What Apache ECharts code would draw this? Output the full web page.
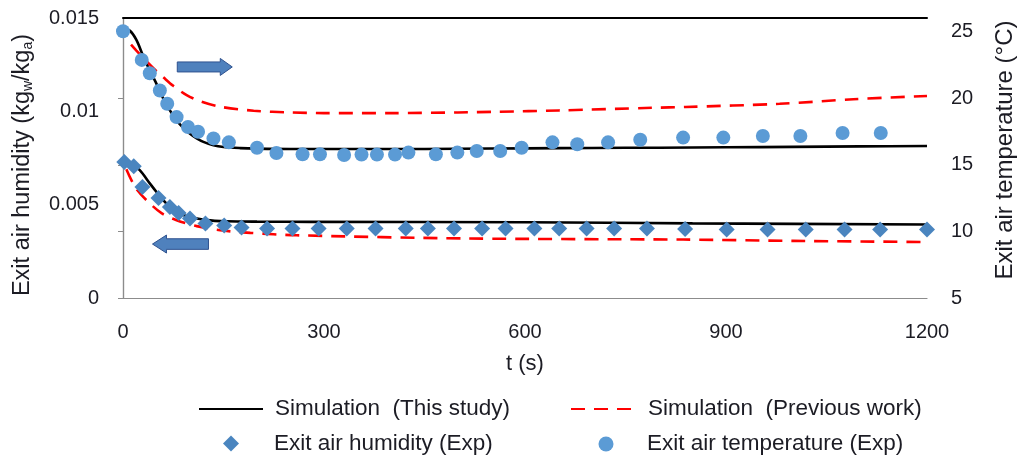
<!DOCTYPE html>
<html>
<head>
<meta charset="utf-8">
<script src="https://cdn.jsdelivr.net/npm/echarts@6/dist/echarts.min.js"></script>
<style>
  html, body { margin: 0; padding: 0; background: #ffffff; }
  #chart { width: 1019px; height: 459px; }
</style>
</head>
<body>
<div id="chart"></div>
<script>
// Axis ticks
const timeTicks = [0, 300, 600, 900, 1200];
const humidityTicks = [0, 0.005, 0.01, 0.015];
const temperatureTicks = [5, 10, 15, 20, 25];

// Simulation (This study): exit air temperature (°C)
const simThisTempTime = [0, 10, 20, 30, 40, 50, 60, 70, 80, 90, 100, 110, 120, 135, 150, 175, 200, 250, 300, 400, 500, 600, 700, 800, 900, 1000, 1100, 1200];
const simThisTemp     = [25.2, 25.1, 24.4, 23.2, 22.1, 21.1, 20.0, 19.1, 18.35, 17.8, 17.35, 17.0, 16.74, 16.48, 16.35, 16.27, 16.23, 16.2, 16.2, 16.2, 16.22, 16.25, 16.28, 16.3, 16.33, 16.36, 16.4, 16.43];

// Simulation (This study): exit air humidity (kg_w/kg_a)
const simThisHumTime = [0, 10, 25, 40, 50, 60, 70, 80, 90, 100, 125, 155, 200, 280, 600, 850, 1200];
const simThisHum     = [0.00738, 0.00725, 0.00685, 0.00614, 0.00568, 0.00524, 0.00488, 0.00461, 0.00445, 0.00434, 0.00417, 0.00411, 0.00409, 0.00408, 0.00406, 0.00400, 0.00394];

// Simulation (Previous work): exit air temperature (°C)
const simPrevTempTime = [12, 20, 35, 50, 60, 75, 95, 115, 145, 195, 250, 300, 400, 500, 560, 650, 790, 840, 980, 1090, 1200];
const simPrevTemp     = [24.05, 23.6, 22.8, 22.05, 21.6, 20.95, 20.25, 19.8, 19.38, 19.08, 18.95, 18.9, 18.9, 18.95, 19.0, 19.1, 19.3, 19.36, 19.6, 19.94, 20.19];

// Simulation (Previous work): exit air humidity (kg_w/kg_a)
const simPrevHumTime = [5, 18, 35, 58, 80, 110, 145, 190, 259, 513, 836, 1000, 1200];
const simPrevHum     = [0.0069, 0.00595, 0.00524, 0.00453, 0.00417, 0.00385, 0.00363, 0.00349, 0.00336, 0.00319, 0.00313, 0.00306, 0.00300];

// Measured exit air humidity (kg_w/kg_a)
const expHumTime = [2, 16, 29, 53, 70, 83, 100, 123, 151, 177, 215, 253, 292, 334, 377, 422, 455, 494, 536, 571, 614, 651, 692, 733, 782, 839, 901, 962, 1019, 1077, 1130, 1200];
const expHum     = [0.00729, 0.00706, 0.00595, 0.00536, 0.00488, 0.00456, 0.00426, 0.00399, 0.00388, 0.00378, 0.00372, 0.00372, 0.00372, 0.00372, 0.00372, 0.00372, 0.00372, 0.00372, 0.00372, 0.00372, 0.00372, 0.00372, 0.00372, 0.00372, 0.00372, 0.00369, 0.00367, 0.00367, 0.00367, 0.00367, 0.00367, 0.00367];

// Measured exit air temperature (°C)
const expTempTime = [0, 28, 40, 55, 66, 80, 97, 112, 135, 158, 200, 229, 268, 294, 330, 356, 379, 406, 426, 467, 499, 528, 563, 595, 641, 678, 724, 772, 836, 896, 955, 1011, 1074, 1131];
const expTemp     = [25.05, 22.9, 21.9, 20.6, 19.6, 18.6, 17.86, 17.5, 17.0, 16.7, 16.3, 15.9, 15.8, 15.8, 15.75, 15.78, 15.78, 15.78, 15.93, 15.8, 15.93, 16.05, 16.05, 16.3, 16.7, 16.56, 16.7, 16.9, 17.06, 17.06, 17.18, 17.18, 17.4, 17.4];

// Arrow anchors [time, value]: one points to the temperature axis, one to the humidity axis
const arrowToTemperature = [81, 22.37];
const arrowToHumidity = [44, 0.00289];

const NAME_THIS = 'Simulation  (This study)';
const NAME_PREV = 'Simulation  (Previous work)';
const NAME_HUM = 'Exit air humidity (Exp)';
const NAME_TEMP = 'Exit air temperature (Exp)';

const FONT = '"Liberation Sans", Arial, sans-serif';
const TEXT = '#1c1c24';
const AXIS_GREY = '#8c8c8c';

const zip = (xs, ys) => xs.map((x, i) => [x, ys[i]]);

const chart = echarts.init(document.getElementById('chart'), null, { renderer: 'canvas' });

const lineBase = {
  type: 'line',
  symbol: 'none',
  smooth: 0.3,
  z: 2
};

// One legend entry per component so each can sit in its own slot
function legendEntry(name, left, top, iconWidth, iconHeight, textPad, hideSymbol) {
  const entry = {
    orient: 'horizontal',
    left: left,
    top: top,
    padding: 0,
    itemWidth: iconWidth,
    itemHeight: iconHeight,
    data: [name],
    formatter: n => '{n|' + n + '}',
    textStyle: {
      rich: { n: { fontFamily: FONT, fontSize: 22.5, color: TEXT, padding: [0, 0, 0, textPad] } }
    }
  };
  if (hideSymbol) entry.itemStyle = { opacity: 0 };
  return entry;
}

chart.setOption({
  animation: false,
  backgroundColor: '#ffffff',
  grid: { left: 123, right: 92, top: 18, bottom: 161 },
  xAxis: [
    {
      type: 'value',
      min: timeTicks[0],
      max: timeTicks[timeTicks.length - 1],
      interval: timeTicks[1] - timeTicks[0],
      name: 't (s)',
      nameLocation: 'middle',
      nameGap: 55,
      nameTextStyle: { fontFamily: FONT, fontSize: 22, color: TEXT },
      axisLine: { lineStyle: { color: AXIS_GREY, width: 1.2 } },
      axisTick: { show: false },
      splitLine: { show: false },
      axisLabel: { fontFamily: FONT, fontSize: 20, color: TEXT, margin: 24, formatter: v => String(v) }
    },
    {
      // closes the plot frame along its top edge
      type: 'value',
      position: 'top',
      min: timeTicks[0],
      max: timeTicks[timeTicks.length - 1],
      axisLine: { lineStyle: { color: '#000000', width: 2 } },
      axisTick: { show: false },
      axisLabel: { show: false },
      splitLine: { show: false }
    }
  ],
  yAxis: [
    {
      type: 'value',
      position: 'left',
      min: humidityTicks[0],
      max: humidityTicks[humidityTicks.length - 1],
      interval: humidityTicks[1] - humidityTicks[0],
      axisLine: { show: true, lineStyle: { color: AXIS_GREY, width: 1.2 } },
      axisTick: { show: false },
      splitLine: { show: false },
      axisLabel: { fontFamily: FONT, fontSize: 20, color: TEXT, margin: 24 }
    },
    {
      type: 'value',
      position: 'right',
      min: temperatureTicks[0],
      max: 26.05,
      interval: temperatureTicks[1] - temperatureTicks[0],
      axisLine: { show: true, lineStyle: { color: AXIS_GREY, width: 1.2 } },
      axisTick: { show: true, inside: true, length: 5, lineStyle: { color: AXIS_GREY } },
      splitLine: { show: false },
      axisLabel: { fontFamily: FONT, fontSize: 20, color: TEXT, margin: 24, showMaxLabel: false }
    }
  ],
  legend: [
    legendEntry(NAME_THIS, 198, 397.5, 64, 14, 7, true),
    legendEntry(NAME_PREV, 570, 397.5, 60, 14, 12, true),
    legendEntry(NAME_HUM, 223, 432, 16, 16, 30, false),
    legendEntry(NAME_TEMP, 598.5, 432.5, 15, 15, 28.5, false)
  ],
  series: [
    Object.assign({}, lineBase, {
      name: NAME_THIS,
      xAxisIndex: 0, yAxisIndex: 0,
      lineStyle: { color: '#000000', width: 2.6 },
      itemStyle: { color: '#000000' },
      data: zip(simThisHumTime, simThisHum)
    }),
    Object.assign({}, lineBase, {
      name: NAME_THIS,
      xAxisIndex: 0, yAxisIndex: 1,
      lineStyle: { color: '#000000', width: 2.6 },
      itemStyle: { color: '#000000' },
      data: zip(simThisTempTime, simThisTemp)
    }),
    Object.assign({}, lineBase, {
      name: NAME_PREV,
      xAxisIndex: 0, yAxisIndex: 0,
      lineStyle: { color: '#ff0000', width: 2.6, type: [14, 9] },
      itemStyle: { color: '#ff0000' },
      data: zip(simPrevHumTime, simPrevHum)
    }),
    Object.assign({}, lineBase, {
      name: NAME_PREV,
      xAxisIndex: 0, yAxisIndex: 1,
      lineStyle: { color: '#ff0000', width: 2.6, type: [14, 9] },
      itemStyle: { color: '#ff0000' },
      data: zip(simPrevTempTime, simPrevTemp)
    }),
    {
      name: NAME_HUM,
      type: 'scatter',
      xAxisIndex: 0, yAxisIndex: 0,
      symbol: 'diamond',
      symbolSize: 16,
      itemStyle: { color: '#4a85bf', opacity: 1 },
      z: 3,
      data: zip(expHumTime, expHum)
    },
    {
      name: NAME_TEMP,
      type: 'scatter',
      xAxisIndex: 0, yAxisIndex: 1,
      symbol: 'circle',
      symbolSize: 14,
      itemStyle: { color: '#5b9bd5', opacity: 1 },
      z: 3,
      data: zip(expTempTime, expTemp)
    }
  ]
});

// Axis titles and block arrows
function annotations() {
  const a = chart.convertToPixel({ xAxisIndex: 0, yAxisIndex: 1 }, arrowToTemperature);
  const b = chart.convertToPixel({ xAxisIndex: 0, yAxisIndex: 0 }, arrowToHumidity);
  const style = { fill: '#4f81bd', stroke: '#2f528f', lineWidth: 1 };
  // right-pointing: tail at anchor
  const right = [
    [0, -5], [43, -5], [43, -8.5], [55, 0], [43, 8.5], [43, 5], [0, 5]
  ].map(p => [a[0] + p[0], a[1] + p[1]]);
  // left-pointing: tip at anchor
  const left = [
    [0, 0], [14, -9], [14, -5.3], [56, -5.3], [56, 5.3], [14, 5.3], [14, 9]
  ].map(p => [b[0] + p[0], b[1] + p[1]]);
  chart.setOption({
    graphic: [
      { type: 'polygon', shape: { points: right }, style: style, z: 10 },
      { type: 'polygon', shape: { points: left }, style: style, z: 10 },
      {
        type: 'text', x: 23, y: 165, rotation: Math.PI / 2,
        style: {
          text: '{t|Exit air humidity (kg}{s|w}{t|/kg}{s|a}{t|)}',
          align: 'center', verticalAlign: 'middle',
          rich: {
            t: { fontFamily: FONT, fontSize: 23.5, fill: TEXT },
            s: { fontFamily: FONT, fontSize: 14, fill: TEXT, padding: [10, 0, 0, 0] }
          }
        }
      },
      {
        type: 'text', x: 1005, y: 150, rotation: Math.PI / 2,
        style: {
          text: 'Exit air temperature (°C)',
          align: 'center', verticalAlign: 'middle',
          fontFamily: FONT, fontSize: 24, fill: TEXT
        }
      }
    ]
  });
}
annotations();
</script>
</body>
</html>
